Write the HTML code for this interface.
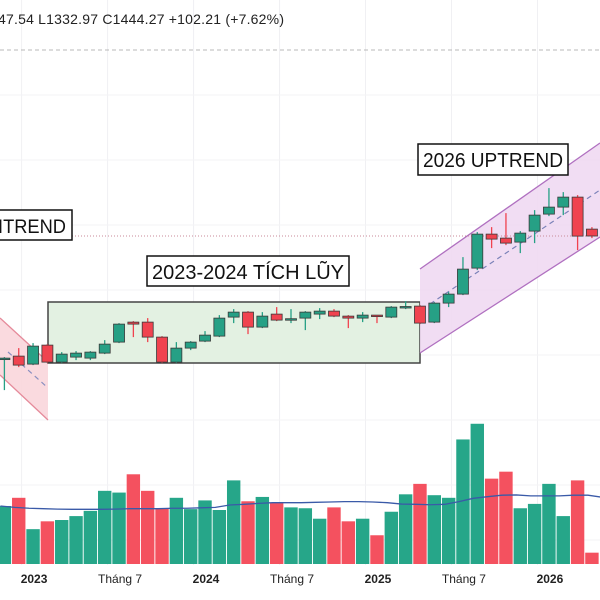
<!DOCTYPE html>
<html><head><meta charset="utf-8"><style>
html,body{margin:0;padding:0;background:#fff;width:600px;height:600px;overflow:hidden}
svg{display:block;font-family:"Liberation Sans",sans-serif}
</style></head><body>
<svg id="chart" width="600" height="600" viewBox="0 0 600 600">
<g id="grid"></g>
<text x="-2" y="24" font-size="14" fill="#222" textLength="286">47.54  L1332.97  C1444.27  +102.21 (+7.62%)</text>
<line x1="0" y1="50" x2="600" y2="50" stroke="#b8b8b8" stroke-dasharray="4,3"/>
<polygon points="0,318 48,362 48,420 0,375" fill="#f9d6dc" opacity="0.9"/>
<line x1="0" y1="318" x2="48" y2="362" stroke="#e58a9a" stroke-width="1.3"/>
<line x1="0" y1="375" x2="48" y2="420" stroke="#e58a9a" stroke-width="1.3"/>
<line x1="8" y1="352" x2="48" y2="388" stroke="#8a8fc0" stroke-width="1.2" stroke-dasharray="5,4"/>
<rect x="48" y="302" width="372" height="61" fill="#e3f1e2" stroke="#444" stroke-width="1.5"/>
<polygon points="420,269 600,143 600,237 420,353" fill="#efd9f2" opacity="0.9"/>
<line x1="420" y1="269" x2="600" y2="143" stroke="#b070c0" stroke-width="1.3"/>
<line x1="420" y1="353" x2="600" y2="237" stroke="#b070c0" stroke-width="1.3"/>
<line x1="430" y1="304" x2="600" y2="190" stroke="#7b82b8" stroke-width="1.2" stroke-dasharray="5,4"/>
<line x1="0" y1="236" x2="600" y2="236" stroke="#c98a9a" stroke-width="1" stroke-dasharray="1,2"/>
<g id="candles"></g>
<g id="volume"></g>
<path id="vma" fill="none" stroke="#3a5aa8" stroke-width="1.3"/>
<rect x="-5" y="210" width="77" height="30" fill="#fff" stroke="#111" stroke-width="1.5"/>
<text x="-2" y="233" font-size="19" fill="#111" textLength="68" lengthAdjust="spacingAndGlyphs">ITREND</text>
<rect x="147" y="256" width="202" height="30" fill="#fff" stroke="#111" stroke-width="1.5"/>
<text x="152" y="279" font-size="20" fill="#111" textLength="192" lengthAdjust="spacingAndGlyphs">2023-2024 TÍCH LŨY</text>
<rect x="418" y="144" width="150" height="31" fill="#fff" stroke="#111" stroke-width="1.5"/>
<text x="423" y="167" font-size="20" fill="#111" textLength="140" lengthAdjust="spacingAndGlyphs">2026 UPTREND</text>
<g id="xaxis"></g>
</svg>
<script>
const opens  = [1136.5,1144,1124,1171.5,1129,1141.5,1139,1151.5,1179,1229,1229,1191.5,1129,1164,1181.5,1194,1241.5,1254,1216.5,1249,1236.5,1239,1249,1256.5,1244,1239,1246.5,1241.5,1266.5,1269,1229,1276.5,1299,1364,1449,1439,1429,1456.5,1499,1516.5,1541.5,1461.5];
const closes = [1139,1121.5,1169,1129,1149,1151.5,1154,1174,1224,1224,1191.5,1129,1164,1179,1196.5,1239,1254,1216.5,1244,1234,1237.5,1254,1256.5,1244,1239,1246.5,1245,1266.5,1268,1226.5,1276.5,1299,1361.5,1449,1436.5,1426.5,1451.5,1496.5,1516.5,1541.5,1444,1444.27];
const highs  = [1141.5,1164,1176.5,1174,1154,1156.5,1156.5,1184,1226.5,1231.5,1239,1194,1179,1181.5,1206.5,1246.5,1261.5,1256.5,1254,1266.5,1261.5,1256.5,1264,1261.5,1246.5,1254,1246.5,1269,1281.5,1271.5,1279,1304,1391.5,1454,1466.5,1501.5,1456.5,1509,1564,1554,1546.5,1466.5];
const lows   = [1059,1116.5,1121.5,1126.5,1126.5,1134,1134,1149,1176.5,1191.5,1179,1126.5,1126.5,1159,1179,1191.5,1226.5,1199,1214,1231.5,1226.5,1209,1236.5,1241.5,1214,1229,1226.5,1239,1261.5,1224,1226.5,1266.5,1296.5,1359,1414,1421.5,1401.5,1426.5,1494,1496.5,1409,1439];
const volumes = [66.6,76,40,49,50.5,55,61,84,82,103,84,64,76,63,73,62,96,72,77,70,65,64,52,65,49,52,33,60,80,92,79,76,143,161,98,106,64,69,92,55,96,13];
const volMA = [66.6,65,64,63.5,63,62.8,62.8,62.8,63,63.5,63.5,63.5,64,64,64.5,65,67.7,68.5,69.6,70.4,70.4,70.4,70.8,71.2,71.6,71.6,71.2,70.4,68.8,68.5,68,68.5,71.6,75.4,77.3,79,79.3,78.2,78.2,78.2,79,79,76.6];
const xLabels = ["2023","Tháng 7","2024","Tháng 7","2025","Tháng 7","2026"];
const xLabelIdx = [2,8,14,20,26,32,38];
const xLabelBold = [true,false,true,false,true,false,true];

const NS="http://www.w3.org/2000/svg";
const xOf = i => 4.4 + i*14.33;
const yP = p => (2034.27 - p)/2.5;
const VS = 0.871;
const yV = v => 564 - v*VS;
const UP="#26a085", DN="#f0434f";
function mk(tag,attrs,parent){const e=document.createElementNS(NS,tag);for(const k in attrs)e.setAttribute(k,attrs[k]);parent.appendChild(e);return e;}

const grid=document.getElementById('grid');
for(const i of xLabelIdx){
  const l=mk('line',{x1:xOf(i-0.8),y1:0,x2:xOf(i-0.8),y2:565,stroke:'#f0f0f3','stroke-width':1},grid);
  
  
}
[95,160,225,290,355,420,485,540].forEach(y=>{
  const l=mk('line',{x1:0,y1:y,x2:600,y2:y,stroke:'#f3f3f6','stroke-width':1},grid);
  
  
});

const cg=document.getElementById('candles');
opens.forEach((o,i)=>{
  const c=closes[i], up=c>=o, x=xOf(i);
  const col=up?UP:DN;
  const w=mk('line',{x1:x,x2:x,y1:yP(highs[i]),y2:yP(lows[i]),stroke:col,'stroke-width':1.3},cg);
  
  
  const top=Math.min(yP(o),yP(c)), h=Math.max(1.5,Math.abs(yP(o)-yP(c)));
  const b=mk('rect',{x:x-5.5,y:top,width:11,height:h,fill:col,stroke:'#3a3a3a','stroke-width':0.8},cg);
  
  
});

const vg=document.getElementById('volume');
volumes.forEach((v,i)=>{
  const up=closes[i]>=opens[i];
  const r=mk('rect',{x:xOf(i)-6.7,y:yV(v),width:13.4,height:v*VS,fill:up?'#26a689':'#f4515f'},vg);
  
  
});
let d='';volMA.forEach((v,i)=>{d+=(i?'L':'M')+(xOf(i)-4)+','+yV(v);});
document.getElementById('vma').setAttribute('d',d);

const xa=document.getElementById('xaxis');
xLabels.forEach((t,k)=>{
  const e=mk('text',{x:xOf(xLabelIdx[k])+1,y:583,'font-size':12,'text-anchor':'middle',fill:'#222','font-weight':xLabelBold[k]?'bold':'normal'},xa);
  e.textContent=t;
  
  
});
</script>
</body></html>
